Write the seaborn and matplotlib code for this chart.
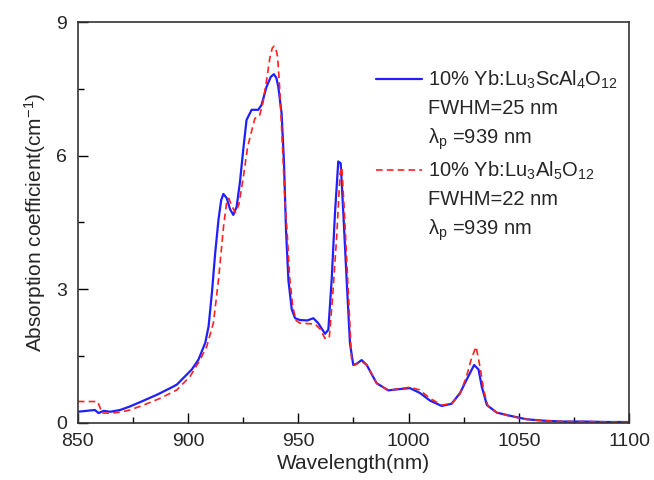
import numpy as np
import matplotlib
matplotlib.use("Agg")
import matplotlib.pyplot as plt
from matplotlib.ticker import MultipleLocator
from matplotlib.lines import Line2D
import seaborn as sns
import pandas as pd

### data
wl_lusc = [850, 854, 857.7, 859.4, 861.7, 864.7, 869.2, 873.7, 879.8, 885.8, 891.9, 894.9,
           897.9, 901.7, 904.7, 907.8, 909.3, 910.8, 912.3, 913.8, 915.0, 916, 917.5, 919,
           920.5, 922, 923.5, 925, 926.5, 928.8, 931.8, 933.3, 935.6, 937.5, 938.9, 940.0,
           940.9, 942.4, 943.5, 944.4, 945.5, 947, 948.5, 950.7, 954, 956.8, 959, 962.1,
           963.6, 965.1, 966.6, 968.1, 969.2, 970.4, 971.9, 973.4, 974.9, 976.5, 978.7, 981,
           985.5, 990.8, 996.1, 1000.6, 1005.2, 1009.7, 1015, 1019.5, 1023.3, 1026.3, 1029.7,
           1031.7, 1033.2, 1035.5, 1040, 1046, 1053.6, 1061, 1070, 1080, 1090, 1100]
abs_lusc = [0.25, 0.27, 0.29, 0.22, 0.27, 0.25, 0.29, 0.37, 0.50, 0.63, 0.78, 0.86,
            1.01, 1.20, 1.42, 1.80, 2.17, 2.92, 3.82, 4.57, 5.0, 5.14, 5.05, 4.8,
            4.67, 4.85, 5.4, 6.13, 6.8, 7.03, 7.03, 7.14, 7.55, 7.77, 7.83, 7.75,
            7.55, 6.95, 5.83, 4.33, 3.2, 2.55, 2.35, 2.31, 2.3, 2.35, 2.24, 2.0,
            2.09, 3.21, 4.7, 5.87, 5.83, 4.7, 3.21, 1.79, 1.30, 1.33, 1.41, 1.3,
            0.89, 0.73, 0.76, 0.78, 0.67, 0.50, 0.38, 0.43, 0.67, 0.97, 1.30,
            1.2, 0.81, 0.40, 0.23, 0.16, 0.08, 0.05, 0.03, 0.03, 0.02, 0.02]

wl_luag = [850, 859, 861, 864.7, 869.2, 873.7, 879.8, 887.3, 894.9, 901, 905.5, 908.5,
           911.5, 913.8, 916.1, 917.6, 918.5, 920, 921.5, 923, 925, 927, 930.3, 932.3,
           934, 935.6, 937.1, 938.2, 939, 939.8, 940.6, 941.6, 942.8, 943.9, 944.9, 946,
           947.5, 949, 950.7, 957.5, 960, 962, 964, 965.5, 967.4, 968.9, 969.7, 970.8,
           972.6, 974.1, 975.5, 978.7, 981, 985.5, 990.8, 996.1, 1000.6, 1005, 1009.7, 1015,
           1019.5, 1023.3, 1026.3, 1028.5, 1030.6, 1032.6, 1034, 1036, 1040, 1046, 1053.6,
           1061, 1070, 1080, 1090, 1100]
abs_luag = [0.48, 0.48, 0.22, 0.22, 0.24, 0.29, 0.40, 0.55, 0.74, 1.05, 1.42, 1.72,
            2.25, 3.22, 4.42, 5.0, 5.04, 4.85, 4.72, 4.9, 5.5, 6.2, 6.84, 6.88,
            7.2, 7.7, 8.2, 8.42, 8.46, 8.4, 8.22, 7.47, 6.2, 5.0, 4.3, 3.3,
            2.6, 2.3, 2.24, 2.22, 2.1, 1.9, 1.9, 2.8, 4.2, 5.6, 5.75, 4.8,
            3.0, 1.45, 1.3, 1.38, 1.3, 0.89, 0.73, 0.77, 0.80, 0.74, 0.55, 0.40,
            0.43, 0.65, 1.05, 1.45, 1.71, 1.2, 0.74, 0.37, 0.23, 0.15, 0.08,
            0.05, 0.03, 0.03, 0.02, 0.02]

legend_labels = [r"10% Yb:Lu$_3$ScAl$_4$O$_{12}$", "FWHM=25 nm", r"$\lambda_p$ =939 nm",
                 r"10% Yb:Lu$_3$Al$_5$O$_{12}$", "FWHM=22 nm", r"$\lambda_p$ =939 nm"]

df1 = pd.DataFrame({"wl": wl_lusc, "a": abs_lusc})
df2 = pd.DataFrame({"wl": wl_luag, "a": abs_luag})

sns.set_style("ticks")
plt.rcParams["font.family"] = ["Liberation Sans", "DejaVu Sans"]
plt.rcParams["mathtext.fontset"] = "custom"
plt.rcParams["mathtext.rm"] = "Liberation Sans"
plt.rcParams["mathtext.it"] = "Liberation Sans"
plt.rcParams["mathtext.default"] = "rm"

fig = plt.figure(figsize=(6.54, 4.8), dpi=100)
ax = fig.add_axes([0.119, 0.119, 0.843, 0.835])

blue = "#1f1fff"
red = "#ff2020"
dash = (0, (4, 2.5))
sns.lineplot(data=df1, x="wl", y="a", color=blue, lw=1.6, ax=ax)
sns.lineplot(data=df2, x="wl", y="a", color=red, lw=1.2, ls=dash, ax=ax)

ax.set_xlim(850, 1100)
ax.set_ylim(0, 9)
ax.xaxis.set_major_locator(MultipleLocator(50))
ax.xaxis.set_minor_locator(MultipleLocator(25))
ax.yaxis.set_major_locator(MultipleLocator(3))
ax.yaxis.set_minor_locator(MultipleLocator(1.5))
ax.tick_params(which="both", direction="in", labelsize=14, color="black")
ax.tick_params(which="major", length=7, width=1)
ax.tick_params(which="minor", length=4, width=1)
ax.tick_params(axis="x", pad=7)
ax.tick_params(axis="y", pad=8)
for s in ax.spines.values():
    s.set_linewidth(1.2)
    s.set_color("#333333")
ax.set_xlabel("Wavelength(nm)", fontsize=15, labelpad=3)
ax.set_ylabel("Absorption coefficient(cm$^{-1}$)", fontsize=15, labelpad=6)

blank = Line2D([], [], color="none")
handles = [Line2D([], [], color=blue, lw=1.6), blank, blank,
           Line2D([], [], color=red, lw=1.2, ls=dash), blank, blank]
ax.legend(handles, legend_labels, loc="upper left", bbox_to_anchor=(0.541, 0.883),
          frameon=False, fontsize=14.5, handlelength=2.3, handletextpad=0.3,
          labelspacing=0.4, borderpad=0, borderaxespad=0)

fig.savefig("out.png", dpi=100)
